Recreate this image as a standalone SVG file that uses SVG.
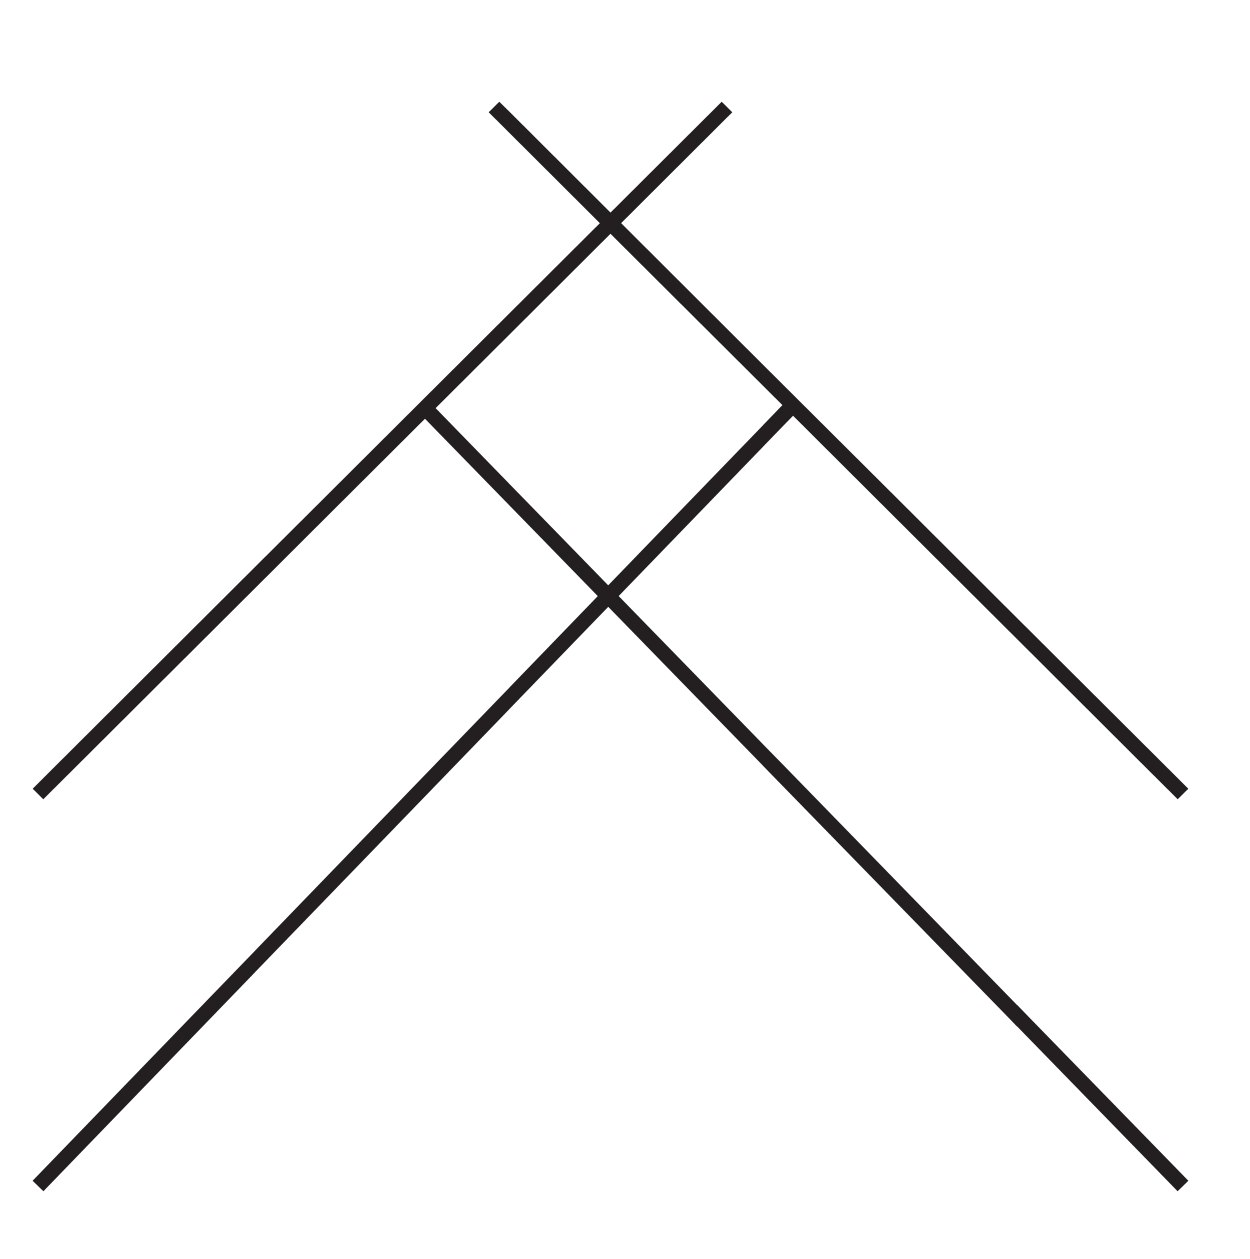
<svg xmlns="http://www.w3.org/2000/svg" width="1250" height="1259" viewBox="0 0 1250 1259">
<style>
.ln{stroke:#231f20;stroke-width:15;stroke-linecap:butt;fill:none}
</style>
<rect width="1250" height="1259" fill="#ffffff"/>
<g id="lines">
<line class="ln" x1="494" y1="107" x2="1183" y2="794"/>
<line class="ln" x1="727" y1="107" x2="38" y2="794"/>
<line class="ln" x1="425" y1="408" x2="1183" y2="1186"/>
<line class="ln" x1="792" y1="406" x2="38" y2="1186"/>
</g>
</svg>
